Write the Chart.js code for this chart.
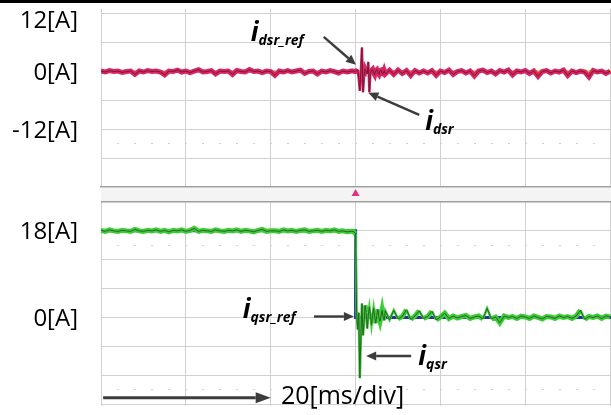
<!DOCTYPE html>
<html>
<head>
<meta charset="utf-8">
<script src="https://cdn.jsdelivr.net/npm/chart.js@4.4.1/dist/chart.umd.min.js"></script>
<style>
  html, body { margin: 0; padding: 0; background: #fff; }
  #wrap { position: relative; width: 611px; height: 415px; overflow: hidden; background: #fff; }
  #topBar { position: absolute; left: 0; top: 0; width: 611px; height: 3px; background: #000; z-index: 3; }
  #gap { position: absolute; left: 101px; top: 188px; width: 510px; height: 13px; background: #f4f4f4; }
  canvas { position: absolute; left: 0; }
  #dsrCanvas { top: 0; z-index: 2; }
  #qsrCanvas { top: 200px; z-index: 1; }
</style>
</head>
<body>
<div id="wrap">
  <div id="gap"></div>
  <canvas id="dsrCanvas" width="611" height="200" style="width:611px;height:200px"></canvas>
  <canvas id="qsrCanvas" width="611" height="215" style="width:611px;height:215px"></canvas>
  <div id="topBar"></div>
</div>
<script>
// ---- time base (ms): 1 ms steps, finer steps around the step change at 60 ms ----
const timeMs = [
  0,1,2,3,4,5,6,7,8,9,10,11,12,13,14,15,16,17,18,19,
  20,21,22,23,24,25,26,27,28,29,30,31,32,33,34,35,36,37,38,39,
  40,41,42,43,44,45,46,47,48,49,50,51,52,53,54,55,56,57,58,59,
  59.5,59.75,60,60.25,60.5,60.75,61,61.25,61.5,61.75,62,62.25,62.5,62.75,63,
  63.25,63.5,63.75,64,64.25,64.5,64.75,65,65.25,65.5,65.75,66,66.25,66.5,66.75,
  67,68,69,70,71,72,73,74,75,76,77,78,79,80,81,82,83,84,85,86,
  87,88,89,90,91,92,93,94,95,96,97,98,99,100,101,102,103,104,105,106,
  107,108,109,110,111,112,113,114,115,116,117,118,119,120
];

// d-axis rotor current i_dsr (A)
const idsrA = [
  0.1,-0.1,0.2,0.0,0.1,-0.2,0.0,0.1,-0.6,0.1,
  -0.1,0.2,0.0,0.1,-0.1,-0.7,0.1,0.0,0.3,-0.1,
  0.1,-0.2,0.1,0.4,-0.1,0.0,0.2,-0.5,0.1,0.0,
  0.1,-0.6,0.2,0.0,-0.1,0.4,0.0,0.1,-0.2,0.1,
  0.0,-0.8,0.1,-0.1,0.2,-0.1,0.1,0.3,-0.4,0.0,
  0.1,-0.5,0.1,-0.1,0.2,0.0,-0.3,0.1,-0.1,0.1,
  0.1,0.0,0.0,0.2,0.4,-1.5,-4.0,0.2,5.0,-4.3,
  -1.0,0.5,0.0,-0.5,2.0,-4.3,-0.4,0.3,0.5,-0.3,
  -0.7,0.2,0.4,-0.3,-0.6,0.2,0.3,-0.4,-0.5,0.2,
  -0.5,0.3,-0.6,0.3,-0.4,0.2,-0.8,0.2,-0.3,0.1,
  -0.3,0.2,-0.8,0.1,-0.2,0.3,-0.6,0.0,0.2,-0.3,
  0.1,-0.9,0.1,0.3,-0.2,0.1,-0.5,0.2,-0.1,0.3,
  -0.7,0.1,-0.1,0.2,-0.4,0.1,-1.0,0.0,0.2,-0.3,
  0.1,-0.1,0.3,-0.8,0.1,-0.2,0.1,-0.1,-1.1,0.2,
  -0.1,0.1,-0.4,0.1
];

// q-axis rotor current i_qsr (A)
const iqsrA = [
  18.1,17.9,18.2,18.0,17.9,18.1,18.0,17.9,18.3,18.0,
  17.9,18.1,18.0,18.2,17.9,18.1,17.8,18.1,18.0,18.2,
  17.9,18.1,18.5,17.9,18.1,18.0,17.9,18.2,18.0,17.9,
  18.1,18.0,18.2,17.9,18.1,18.0,17.8,18.1,18.3,17.9,
  18.0,18.0,17.9,18.2,18.0,18.1,17.9,18.1,18.2,17.9,
  18.0,18.1,17.9,18.1,18.0,18.2,17.9,18.0,17.8,17.9,
  17.9,17.6,17.4,1.0,-2.5,1.0,-12.6,-4.0,2.9,-3.7,
  -1.0,2.5,1.0,-2.3,0.5,2.2,0.5,-1.6,0.3,2.0,
  0.2,-1.2,0.4,1.7,0.0,-0.8,0.3,1.5,0.1,-0.6,
  1.4,-0.5,1.5,-0.3,0.2,1.6,-0.4,0.3,1.4,-0.2,
  0.2,1.3,-0.5,0.1,0.9,-0.2,0.3,-0.1,0.2,0.4,
  -0.2,0.1,0.3,-0.3,1.9,-0.3,0.1,-1.1,0.3,0.0,
  0.2,-0.2,0.3,0.1,-0.2,0.3,0.0,-0.3,0.2,0.1,
  -0.2,0.3,0.0,0.2,-0.2,0.3,1.5,-0.4,0.2,0.0,
  0.3,-0.2,0.3,0.1
];

// references
const dsrRefTimeMs = [0, 120.2];
const dsrRefA = [0, 0];
const qsrRefTimeMs = [0, 60, 60, 120.2];
const qsrRefA = [18, 18, 0, 0];

// trigger instant, marked under the upper panel
const triggerMs = 60;

// graticule
const timeGridMs = [0, 20, 40, 60, 80, 100, 120];
const dsrGridA = [-18, 12, 6, 0, -6, -12];
const dsrDotA = [-15];
const dsrLabelA = [12, 0, -12];
const dsrLabelBelowA = [12];   // label sits just under its line
const qsrGridA = [-18, 24, 18, 12, 6, 0, -6, -12];
const qsrDotA = [15, -15];
const qsrLabelA = [18, 0];

const FONT = "'Open Sans', 'Liberation Sans', sans-serif";
const GRID = '#d0d0d0';
const EDGE = '#9e9e9e';
const INK = '#3c3c3c';

const pts = (xs, ys) => xs.map((x, i) => ({ x, y: ys[i] }));

// steep swings are drawn with a thinner trace, like a fast sweep on a scope
const steepThin = { borderWidth: c => Math.abs(c.p1.parsed.y - c.p0.parsed.y) > 1.5 ? 2.5 : undefined };

function drawArrow(ctx, x1, y1, x2, y2, head, half, width) {
  const a = Math.atan2(y2 - y1, x2 - x1);
  const bx = x2 - head * Math.cos(a), by = y2 - head * Math.sin(a);
  ctx.save();
  ctx.strokeStyle = INK; ctx.fillStyle = INK; ctx.lineWidth = width;
  ctx.beginPath(); ctx.moveTo(x1, y1); ctx.lineTo(bx, by); ctx.stroke();
  ctx.beginPath();
  ctx.moveTo(x2, y2);
  ctx.lineTo(bx - half * Math.sin(a), by + half * Math.cos(a));
  ctx.lineTo(bx + half * Math.sin(a), by - half * Math.cos(a));
  ctx.closePath(); ctx.fill();
  ctx.restore();
}

function drawSymbol(ctx, x, y, main, sub) {
  ctx.save();
  ctx.fillStyle = '#000';
  ctx.textBaseline = 'alphabetic';
  ctx.textAlign = 'left';
  ctx.font = "italic bold 26px " + FONT;
  ctx.fillText(main, x, y);
  const w = ctx.measureText(main).width;
  ctx.font = "italic bold 14px " + FONT;
  ctx.fillText(sub, x + w, y + 4);
  ctx.restore();
}

// annotation sets, positioned in data units (ms, A)
const dsrNotes = [
  { main: 'i', sub: 'dsr_ref', ms: 35.3, a: 6.4 },
  { main: 'i', sub: 'dsr', ms: 76.4, a: -12.1 }
];
const dsrArrows = [
  { fromMs: 52.5, fromA: 7.2, toMs: 60.1, toA: 1.4 },
  { fromMs: 75.0, fromA: -9.0, toMs: 63.0, toA: -4.4 }
];
const qsrNotes = [
  { main: 'i', sub: 'qsr_ref', ms: 33.4, a: -0.1 },
  { main: 'i', sub: 'qsr', ms: 74.8, a: -9.9 }
];
const qsrArrows = [
  { fromMs: 50.2, fromA: 0.2, toMs: 59.6, toA: 0.2 },
  { fromMs: 73.1, fromA: -8.0, toMs: 62.5, toA: -8.0 }
];
const timebaseArrow = { fromMs: 0.5, toMs: 40.0, a: -16.7 };
const timebaseLabel = { text: '20[ms/div]', ms: 42.4, a: -18.0 };

function notesPlugin(notes, arrows, extra) {
  return {
    id: 'notes',
    afterDraw(chart) {
      const { ctx } = chart;
      const xs = chart.scales.x, ys = chart.scales.y;
      arrows.forEach(r => drawArrow(ctx,
        xs.getPixelForValue(r.fromMs), ys.getPixelForValue(r.fromA),
        xs.getPixelForValue(r.toMs), ys.getPixelForValue(r.toA), 10, 4.5, 2.4));
      notes.forEach(n => drawSymbol(ctx, xs.getPixelForValue(n.ms), ys.getPixelForValue(n.a), n.main, n.sub));
      if (extra) extra(chart, xs, ys);
    }
  };
}

// small upward triangle marking the trigger instant below the plot area
function drawTrigger(chart, xs) {
  const { ctx, chartArea } = chart;
  const x = xs.getPixelForValue(triggerMs);
  const top = chartArea.bottom + 2, bottom = chartArea.bottom + 9;
  ctx.save();
  ctx.fillStyle = '#e2307c';
  ctx.beginPath();
  ctx.moveTo(x, top);
  ctx.lineTo(x + 4, bottom);
  ctx.lineTo(x - 4, bottom);
  ctx.closePath();
  ctx.fill();
  ctx.restore();
}

function xScale(h, showBorder) {
  return {
    type: 'linear', min: 0, max: 120.2,
    afterBuildTicks: s => { s.ticks = timeGridMs.map(v => ({ value: v })); },
    afterFit: s => { s.height = h; },
    ticks: { display: false, autoSkip: false },
    grid: { color: GRID, lineWidth: 1, drawTicks: false },
    border: { display: showBorder, color: EDGE, width: 1.5 }
  };
}

function yScale(min, max, grid, dots, labels, below, strongTop) {
  const isBelow = v => below.includes(v);
  return {
    type: 'linear', min, max, position: 'left',
    afterBuildTicks: s => { s.ticks = grid.concat(dots).map(v => ({ value: v })); },
    afterFit: s => { s.width = 101; },
    ticks: {
      autoSkip: false, padding: 0, color: '#000', labelOffset: 1.5,
      font: ctx => ({ family: FONT, size: 24,
        lineHeight: (ctx.tick && isBelow(ctx.tick.value)) ? '11px' : 0.1 }),
      callback: v => labels.includes(v) ? (isBelow(v) ? ['', v + '[A]'] : v + '[A]') : ''
    },
    grid: {
      drawTicks: true, tickLength: 23, tickColor: 'rgba(0,0,0,0)',
      color: ctx => (ctx.tick && strongTop !== null && ctx.tick.value === strongTop) ? EDGE : GRID,
      lineWidth: ctx => (ctx.tick && strongTop !== null && ctx.tick.value === strongTop) ? 1.5 : 1
    },
    border: {
      display: false,
      dash: ctx => (ctx.tick && dots.includes(ctx.tick.value)) ? [2, 15] : [],
      dashOffset: 1
    }
  };
}

const common = {
  responsive: false,
  animation: false,
  events: [],
  plugins: { legend: { display: false }, tooltip: { enabled: false } },
  elements: { point: { radius: 0 }, line: { tension: 0 } }
};

new Chart(document.getElementById('dsrCanvas'), {
  type: 'line',
  data: {
    datasets: [
      { data: pts(timeMs, idsrA), borderColor: '#7a1838', borderWidth: 1, order: 0 },
      { data: pts(timeMs, idsrA), borderColor: '#d72663', borderWidth: 5, segment: steepThin, order: 1 },
      { data: pts(dsrRefTimeMs, dsrRefA), borderColor: '#e0b81c', borderWidth: 2.5, order: 2 }
    ]
  },
  options: Object.assign({}, common, {
    layout: { padding: { top: 9, right: 0, bottom: 0, left: 0 } },
    scales: { x: xScale(13, true), y: yScale(-24, 13, dsrGridA, dsrDotA, dsrLabelA, dsrLabelBelowA, null) }
  }),
  plugins: [notesPlugin(dsrNotes, dsrArrows, (chart, xs) => drawTrigger(chart, xs))]
});

new Chart(document.getElementById('qsrCanvas'), {
  type: 'line',
  data: {
    datasets: [
      { data: pts(timeMs, iqsrA), borderColor: '#2a6426', borderWidth: 1, order: 0 },
      { data: pts(timeMs, iqsrA), borderColor: '#3dcb37', borderWidth: 5, segment: steepThin, order: 1 },
      { data: pts(qsrRefTimeMs, qsrRefA), borderColor: '#2430a8', borderWidth: 3, order: 2 }
    ]
  },
  options: Object.assign({}, common, {
    layout: { padding: { top: 2, right: 0, bottom: 0, left: 0 } },
    scales: { x: xScale(9, false), y: yScale(-18.4, 24, qsrGridA, qsrDotA, qsrLabelA, [], 24) }
  }),
  plugins: [notesPlugin(qsrNotes, qsrArrows, (chart, xs, ys) => {
    const { ctx } = chart;
    const y = ys.getPixelForValue(timebaseArrow.a);
    drawArrow(ctx, xs.getPixelForValue(timebaseArrow.fromMs), y,
      xs.getPixelForValue(timebaseArrow.toMs), y, 15, 5.5, 3);
    ctx.save();
    ctx.fillStyle = '#000';
    ctx.font = '25px ' + FONT;
    ctx.textAlign = 'left';
    ctx.textBaseline = 'alphabetic';
    ctx.fillText(timebaseLabel.text, xs.getPixelForValue(timebaseLabel.ms), ys.getPixelForValue(timebaseLabel.a));
    ctx.restore();
  })]
});
</script>
</body>
</html>
